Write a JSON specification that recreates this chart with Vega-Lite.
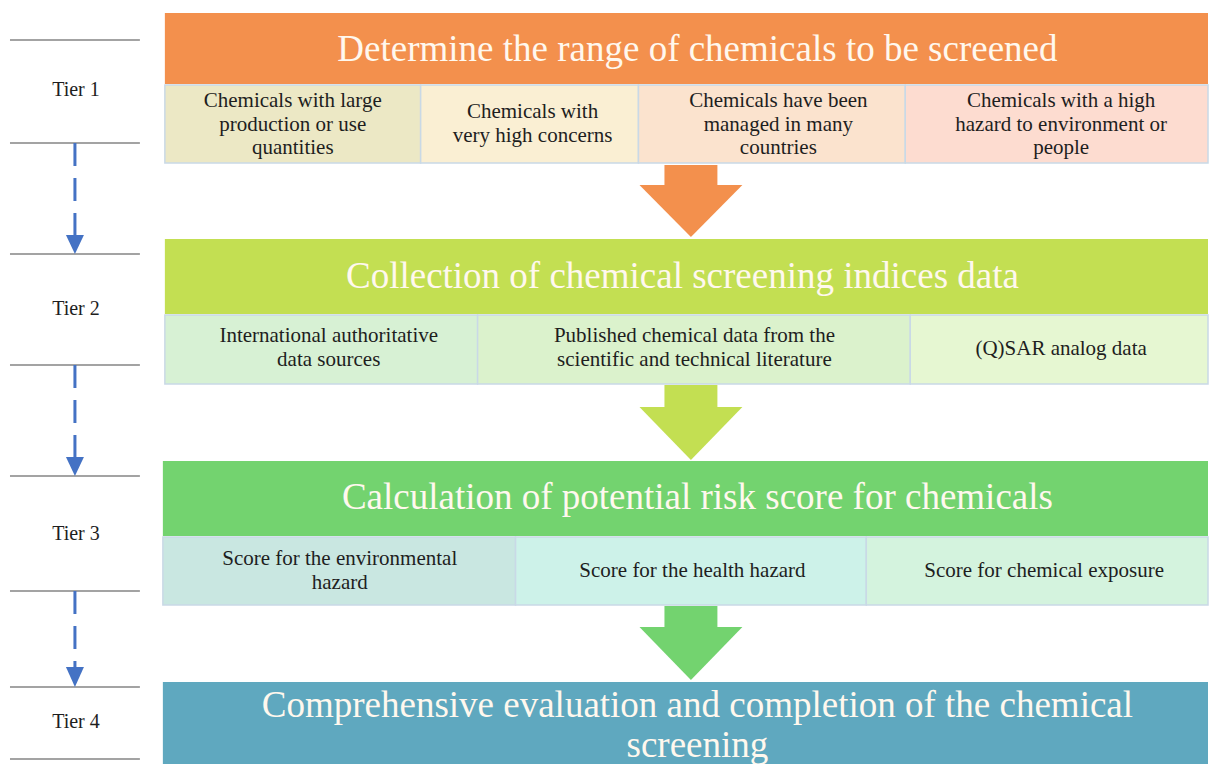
{
  "$schema": "https://vega.github.io/schema/vega-lite/v6.json",
  "width": 1209,
  "height": 764,
  "autosize": {"type": "fit", "contains": "padding"},
  "padding": 0,
  "background": "white",
  "config": {"view": {"stroke": null}},
  "datasets": {
    "headers": [
      {"id": "Tier 1 header", "x1": 165, "x2": 1209, "y1": 13, "y2": 84, "part": "h1"},
      {"id": "Tier 2 header", "x1": 165, "x2": 1209, "y1": 239, "y2": 314, "part": "h2"},
      {"id": "Tier 3 header", "x1": 163, "x2": 1209, "y1": 461, "y2": 536, "part": "h3"},
      {"id": "Tier 4 header", "x1": 163, "x2": 1209, "y1": 682, "y2": 764, "part": "h4"},
      {"id": "Arrow 1 shaft", "x1": 665, "x2": 718, "y1": 165, "y2": 186, "part": "h1"},
      {"id": "Arrow 2 shaft", "x1": 665, "x2": 718, "y1": 385, "y2": 408, "part": "h2"},
      {"id": "Arrow 3 shaft", "x1": 665, "x2": 718, "y1": 606, "y2": 628, "part": "h3"}
    ],
    "subs": [
      {"id": "s11", "x1": 165, "x2": 421, "y1": 85, "y2": 163, "part": "s11"},
      {"id": "s12", "x1": 421, "x2": 639, "y1": 85, "y2": 163, "part": "s12"},
      {"id": "s13", "x1": 639, "x2": 906, "y1": 85, "y2": 163, "part": "s13"},
      {"id": "s14", "x1": 906, "x2": 1209, "y1": 85, "y2": 163, "part": "s14"},
      {"id": "s21", "x1": 165, "x2": 478, "y1": 315, "y2": 384, "part": "s21"},
      {"id": "s22", "x1": 478, "x2": 911, "y1": 315, "y2": 384, "part": "s22"},
      {"id": "s23", "x1": 911, "x2": 1209, "y1": 315, "y2": 384, "part": "s23"},
      {"id": "s31", "x1": 163, "x2": 516, "y1": 537, "y2": 605, "part": "s31"},
      {"id": "s32", "x1": 516, "x2": 867, "y1": 537, "y2": 605, "part": "s32"},
      {"id": "s33", "x1": 867, "x2": 1209, "y1": 537, "y2": 605, "part": "s33"}
    ],
    "heads": [
      {"arrow": "a1", "y": 185, "xl": 640, "xr": 743, "part": "h1"},
      {"arrow": "a1", "y": 237, "xl": 691.5, "xr": 691.5, "part": "h1"},
      {"arrow": "a2", "y": 407, "xl": 640, "xr": 743, "part": "h2"},
      {"arrow": "a2", "y": 460, "xl": 691.5, "xr": 691.5, "part": "h2"},
      {"arrow": "a3", "y": 627, "xl": 640, "xr": 743, "part": "h3"},
      {"arrow": "a3", "y": 680, "xl": 691.5, "xr": 691.5, "part": "h3"}
    ],
    "blueheads": [
      {"arrow": "b1", "y": 235, "xl": 66, "xr": 84},
      {"arrow": "b1", "y": 254, "xl": 75, "xr": 75},
      {"arrow": "b2", "y": 457, "xl": 66, "xr": 84},
      {"arrow": "b2", "y": 476, "xl": 75, "xr": 75},
      {"arrow": "b3", "y": 667, "xl": 66, "xr": 84},
      {"arrow": "b3", "y": 687, "xl": 75, "xr": 75}
    ],
    "dashes": [
      {"x": 75, "y1": 143, "y2": 236},
      {"x": 75, "y1": 365, "y2": 458},
      {"x": 75, "y1": 591, "y2": 668}
    ],
    "tierlines": [
      {"x1": 10, "x2": 140, "y": 40},
      {"x1": 10, "x2": 140, "y": 143},
      {"x1": 10, "x2": 140, "y": 254},
      {"x1": 10, "x2": 140, "y": 365},
      {"x1": 10, "x2": 140, "y": 476},
      {"x1": 10, "x2": 140, "y": 591},
      {"x1": 10, "x2": 140, "y": 687},
      {"x1": 10, "x2": 140, "y": 759}
    ],
    "tiers": [
      {"text": "Tier 1", "x": 76, "y": 90},
      {"text": "Tier 2", "x": 76, "y": 309},
      {"text": "Tier 3", "x": 76, "y": 534},
      {"text": "Tier 4", "x": 76, "y": 722}
    ],
    "titles": [
      {"text": "Determine the range of chemicals to be screened", "x": 698, "y": 50},
      {"text": "Collection of chemical screening indices data", "x": 683, "y": 277},
      {"text": "Calculation of potential risk score for chemicals", "x": 698, "y": 498},
      {"text": "Comprehensive evaluation and completion of the chemical\nscreening", "x": 698, "y": 706}
    ],
    "subtexts": [
      {"text": "Chemicals with large\nproduction or use\nquantities", "x": 293, "y": 101},
      {"text": "Chemicals with\nvery high concerns", "x": 533, "y": 112},
      {"text": "Chemicals have been\nmanaged in many\ncountries", "x": 779, "y": 101},
      {"text": "Chemicals with a high\nhazard to environment or\npeople", "x": 1062, "y": 101},
      {"text": "International authoritative\ndata sources", "x": 329, "y": 336},
      {"text": "Published chemical data from the\nscientific and technical literature", "x": 695, "y": 336},
      {"text": "(Q)SAR analog data", "x": 1062, "y": 349},
      {"text": "Score for the environmental\nhazard", "x": 340, "y": 559},
      {"text": "Score for the health hazard", "x": 693, "y": 571},
      {"text": "Score for chemical exposure", "x": 1045, "y": 571}
    ]
  },
  "layer": [
    {
      "data": {"name": "tierlines"},
      "mark": {"type": "rule", "color": "#A3A3A3", "strokeWidth": 2},
      "encoding": {
        "x": {"field": "x1", "type": "quantitative", "scale": {"domain": [0, 1209], "nice": false, "zero": false}, "axis": null},
        "x2": {"field": "x2"},
        "y": {"field": "y", "type": "quantitative", "scale": {"domain": [0, 764], "nice": false, "zero": false, "reverse": true}, "axis": null}
      }
    },
    {
      "data": {"name": "dashes"},
      "mark": {"type": "rule", "color": "#4472C4", "strokeWidth": 3, "strokeDash": [23, 12]},
      "encoding": {
        "x": {"field": "x", "type": "quantitative", "axis": null},
        "y": {"field": "y1", "type": "quantitative", "axis": null},
        "y2": {"field": "y2"}
      }
    },
    {
      "data": {"name": "blueheads"},
      "mark": {"type": "area", "orient": "horizontal", "color": "#4472C4"},
      "encoding": {
        "y": {"field": "y", "type": "quantitative", "axis": null},
        "x": {"field": "xl", "type": "quantitative", "axis": null},
        "x2": {"field": "xr"},
        "detail": {"field": "arrow", "type": "nominal"}
      }
    },
    {
      "data": {"name": "headers"},
      "mark": {"type": "rect"},
      "encoding": {
        "x": {"field": "x1", "type": "quantitative", "axis": null},
        "x2": {"field": "x2"},
        "y": {"field": "y1", "type": "quantitative", "axis": null},
        "y2": {"field": "y2"},
        "color": {
          "field": "part", "type": "nominal", "legend": null,
          "scale": {
            "domain": ["h1", "h2", "h3", "h4", "s11", "s12", "s13", "s14", "s21", "s22", "s23", "s31", "s32", "s33"],
            "range": ["#F3904D", "#C3DF52", "#73D36F", "#5FA8BF", "#ECE8C5", "#FAEFD3", "#FBE3CE", "#FDDCD0", "#D7F1D4", "#DBF2CC", "#E6F7D2", "#C9E7E1", "#CDF2E9", "#D4F3DE"]
          }
        }
      }
    },
    {
      "data": {"name": "heads"},
      "mark": {"type": "area", "orient": "horizontal"},
      "encoding": {
        "y": {"field": "y", "type": "quantitative", "axis": null},
        "x": {"field": "xl", "type": "quantitative", "axis": null},
        "x2": {"field": "xr"},
        "detail": {"field": "arrow", "type": "nominal"},
        "color": {"field": "part", "type": "nominal", "legend": null}
      }
    },
    {
      "data": {"name": "subs"},
      "mark": {"type": "rect", "stroke": "#C9D9E6", "strokeWidth": 1.5},
      "encoding": {
        "x": {"field": "x1", "type": "quantitative", "axis": null},
        "x2": {"field": "x2"},
        "y": {"field": "y1", "type": "quantitative", "axis": null},
        "y2": {"field": "y2"},
        "color": {"field": "part", "type": "nominal", "legend": null}
      }
    },
    {
      "data": {"name": "tiers"},
      "mark": {"type": "text", "font": "'Liberation Serif', 'DejaVu Serif', serif", "fontSize": 20, "color": "#1E1E1E", "align": "center", "baseline": "middle"},
      "encoding": {
        "x": {"field": "x", "type": "quantitative", "axis": null},
        "y": {"field": "y", "type": "quantitative", "axis": null},
        "text": {"field": "text"}
      }
    },
    {
      "data": {"name": "titles"},
      "mark": {"type": "text", "font": "'Liberation Serif', 'DejaVu Serif', serif", "fontSize": 37, "color": "#FFF8EE", "align": "center", "baseline": "middle", "lineBreak": "\n", "lineHeight": 40, "clip": true},
      "encoding": {
        "x": {"field": "x", "type": "quantitative", "axis": null},
        "y": {"field": "y", "type": "quantitative", "axis": null},
        "text": {"field": "text"}
      }
    },
    {
      "data": {"name": "subtexts"},
      "mark": {"type": "text", "font": "'Liberation Serif', 'DejaVu Serif', serif", "fontSize": 21, "color": "#1E1E1E", "align": "center", "baseline": "middle", "lineBreak": "\n", "lineHeight": 23.5},
      "encoding": {
        "x": {"field": "x", "type": "quantitative", "axis": null},
        "y": {"field": "y", "type": "quantitative", "axis": null},
        "text": {"field": "text"}
      }
    }
  ]
}
